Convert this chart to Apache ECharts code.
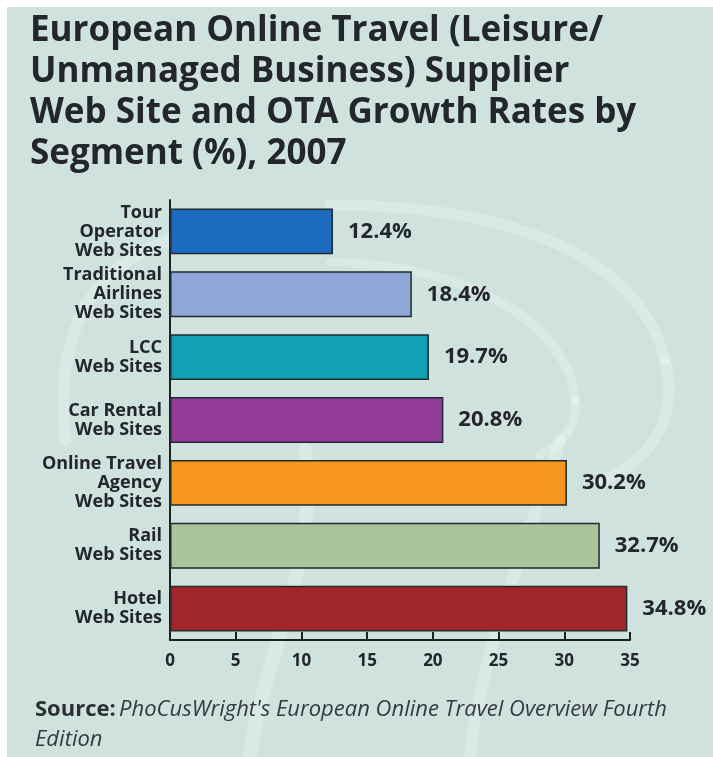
<!DOCTYPE html>
<html>
<head>
<meta charset="utf-8">
<script src="https://cdn.jsdelivr.net/npm/echarts@6/dist/echarts.min.js"></script>
<style>
  html, body { margin: 0; padding: 0; background: #ffffff; }
  #chart { position: absolute; left: 0; top: 0; width: 713px; height: 757px; }
</style>
</head>
<body>
<div id="chart"></div>
<script>
// Segments, listed bottom to top as the category axis draws them
const categories = [
  'Hotel\nWeb Sites',
  'Rail\nWeb Sites',
  'Online Travel\nAgency\nWeb Sites',
  'Car Rental\nWeb Sites',
  'LCC\nWeb Sites',
  'Traditional\nAirlines\nWeb Sites',
  'Tour\nOperator\nWeb Sites'
];
const growthRates = [34.8, 32.7, 30.2, 20.8, 19.7, 18.4, 12.4];
const barColors = ['#a0262a', '#a9c39b', '#f5961f', '#923a98', '#10a2b4', '#8fa6d6', '#1d6bbd'];
const xTicks = [0, 5, 10, 15, 20, 25, 30, 35];

const titleLines = [
  'European Online Travel (Leisure/',
  'Unmanaged Business) Supplier',
  'Web Site and OTA Growth Rates by',
  'Segment (%), 2007'
];
const sourceLabel = 'Source:';
const sourceText = "PhoCusWright's European Online Travel Overview Fourth";
const sourceText2 = 'Edition';

const chart = echarts.init(document.getElementById('chart'), null, { renderer: 'canvas' });

const textColor = '#23262b';
const labelFont = '"Open Sans", "Noto Sans", sans-serif';
const swirl = 'rgba(236,244,242,0.4)';

function stroke(x1, y1, cpx1, cpy1, cpx2, cpy2, x2, y2, w) {
  return {
    type: 'bezierCurve', z: -9, silent: true,
    shape: { x1, y1, cpx1, cpy1, cpx2, cpy2, x2, y2 },
    style: { stroke: swirl, lineWidth: w, fill: null, lineCap: 'round' }
  };
}

chart.setOption({
  backgroundColor: '#ffffff',
  animation: false,
  graphic: [
    // panel
    { type: 'rect', z: -10, silent: true, shape: { x: 7, y: 7, width: 706, height: 750 }, style: { fill: '#cfe2de' } },
    // decorative swirl behind the plot
    stroke(330, 205, 520, 205, 640, 260, 665, 360, 11),
    stroke(665, 360, 680, 420, 650, 460, 600, 482, 11),
    stroke(330, 262, 480, 265, 570, 330, 575, 400, 9),
    stroke(575, 400, 578, 430, 560, 445, 540, 455, 9),
    stroke(168, 240, 90, 270, 55, 330, 65, 440, 12),
    stroke(305, 450, 320, 560, 262, 660, 250, 757, 14),
    stroke(560, 440, 520, 560, 480, 660, 470, 757, 12),
    // title
    {
      type: 'text', left: 30, top: 11,
      style: {
        text: titleLines.join('\n'),
        font: 'bold 35px "Open Sans", "Noto Sans", sans-serif',
        lineHeight: 41,
        fill: textColor
      }
    },
    // source note
    {
      type: 'text', left: 35, top: 695,
      style: {
        text: '{b|' + sourceLabel + '} {i|' + sourceText + '}\n{i|' + sourceText2 + '}',
        lineHeight: 30,
        rich: {
          b: { font: 'bold 22px "Open Sans", sans-serif', fill: '#2c3033', lineHeight: 30 },
          i: { font: 'italic 22px "Open Sans", sans-serif', fill: '#353a3e', lineHeight: 30 }
        }
      }
    }
  ],
  grid: { left: 170, right: 83, top: 200, bottom: 117, containLabel: false },
  xAxis: {
    type: 'value',
    min: 0, max: 35, interval: 5,
    splitLine: { show: false },
    axisLine: { show: true, lineStyle: { color: '#1c2224', width: 2 } },
    axisTick: { show: true, inside: true, length: 8, lineStyle: { color: '#1c2224', width: 2 } },
    axisLabel: {
      margin: 13,
      color: textColor,
      fontFamily: labelFont,
      fontWeight: 'bold',
      fontSize: 17,
      formatter: v => (xTicks.indexOf(v) >= 0 ? String(v) : '')
    }
  },
  yAxis: {
    type: 'category',
    data: categories,
    axisLine: { show: true, onZero: false, lineStyle: { color: '#1c2224', width: 2 } },
    axisTick: { show: false },
    axisLabel: {
      margin: 8,
      align: 'right',
      color: textColor,
      fontFamily: labelFont,
      fontWeight: 'bold',
      fontSize: 18,
      lineHeight: 19
    }
  },
  series: [{
    type: 'bar',
    data: growthRates.map((v, i) => ({ value: v, itemStyle: { color: barColors[i] } })),
    barCategoryGap: '27%',
    itemStyle: { borderColor: '#1f2b2c', borderWidth: 1.5 },
    label: {
      show: true,
      position: 'right',
      distance: 15,
      color: textColor,
      fontFamily: labelFont,
      fontWeight: 'bold',
      fontSize: 22,
      formatter: p => p.value.toFixed(1) + '%'
    }
  }]
});
</script>
</body>
</html>
